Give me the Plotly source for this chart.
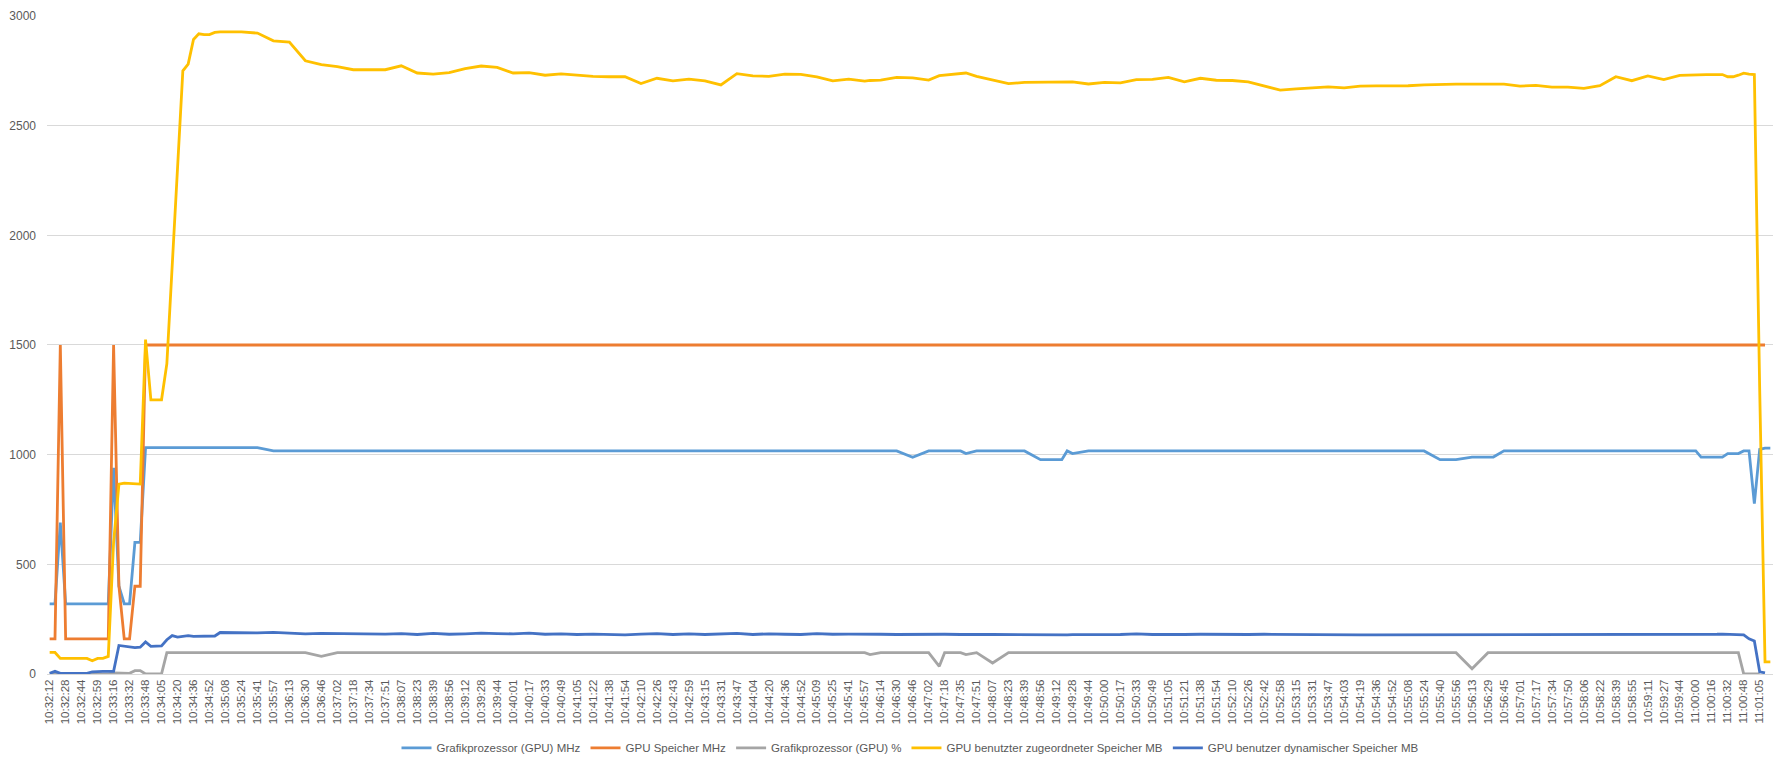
import plotly.graph_objects as go

# GPU log, one row every ~5 s; only every 3rd row has a time label on the axis
time_labels = [
    '10:32:12', '10:32:28', '10:32:44', '10:32:59', '10:33:16', '10:33:32', '10:33:48', '10:34:05',
    '10:34:20', '10:34:36', '10:34:52', '10:35:08', '10:35:24', '10:35:41', '10:35:57', '10:36:13',
    '10:36:30', '10:36:46', '10:37:02', '10:37:18', '10:37:34', '10:37:51', '10:38:07', '10:38:23',
    '10:38:39', '10:38:56', '10:39:12', '10:39:28', '10:39:44', '10:40:01', '10:40:17', '10:40:33',
    '10:40:49', '10:41:05', '10:41:22', '10:41:38', '10:41:54', '10:42:10', '10:42:26', '10:42:43',
    '10:42:59', '10:43:15', '10:43:31', '10:43:47', '10:44:04', '10:44:20', '10:44:36', '10:44:52',
    '10:45:09', '10:45:25', '10:45:41', '10:45:57', '10:46:14', '10:46:30', '10:46:46', '10:47:02',
    '10:47:18', '10:47:35', '10:47:51', '10:48:07', '10:48:23', '10:48:39', '10:48:56', '10:49:12',
    '10:49:28', '10:49:44', '10:50:00', '10:50:17', '10:50:33', '10:50:49', '10:51:05', '10:51:21',
    '10:51:38', '10:51:54', '10:52:10', '10:52:26', '10:52:42', '10:52:58', '10:53:15', '10:53:31',
    '10:53:47', '10:54:03', '10:54:19', '10:54:36', '10:54:52', '10:55:08', '10:55:24', '10:55:40',
    '10:55:56', '10:56:13', '10:56:29', '10:56:45', '10:57:01', '10:57:17', '10:57:34', '10:57:50',
    '10:58:06', '10:58:22', '10:58:39', '10:58:55', '10:59:11', '10:59:27', '10:59:44', '11:00:00',
    '11:00:16', '11:00:32', '11:00:48', '11:01:05',
]

rows = [
    0, 1, 2, 3, 4, 5, 6, 7, 8, 9, 10, 11, 12, 13, 14, 15, 16, 17, 18, 19, 20, 21, 22, 23, 24, 25, 26,
    27, 28, 29, 30, 31, 32, 33,
    36, 39, 42, 45, 48, 51, 54, 57, 60, 63, 66, 69, 72, 75, 78, 81, 84, 87, 90, 93, 96, 99, 102, 105,
    108, 111, 114, 117, 120, 123, 126, 129, 132, 135, 138, 141, 144, 147, 150, 153, 154, 156, 159,
    162, 165, 167, 168, 171, 172, 174, 177, 180, 183, 186, 189, 190, 191, 192, 195, 198, 201, 204,
    207, 210, 213, 216, 219, 222, 225, 228, 231, 234, 237, 240, 243, 246, 249, 252, 255, 258, 261,
    264, 267, 270, 271, 273, 276, 279, 282, 285, 288, 291, 294, 297, 300, 303, 306,
    309, 310, 311, 312, 313, 314, 315, 316, 317, 318, 319, 320, 321, 322, 323,
]

gpu_mhz = [
    320, 320, 690, 320, 320, 320, 320, 320, 320, 320, 320, 320, 940, 400, 320, 320, 600, 600, 1032,
    1032, 1032, 1032, 1032, 1032, 1032, 1032, 1032, 1032, 1032, 1032, 1032, 1032, 1032, 1032,
    1032, 1032, 1017, 1017, 1017, 1017, 1017, 1017, 1017, 1017, 1017, 1017, 1017, 1017, 1017, 1017,
    1017, 1017, 1017, 1017, 1017, 1017, 1017, 1017, 1017, 1017, 1017, 1017, 1017, 1017, 1017, 1017,
    1017, 1017, 1017, 1017, 1017, 1017, 1017, 1017, 1017, 1017, 1017, 988, 1017, 1017, 1017, 1017,
    1005, 1017, 1017, 1017, 1017, 977, 977, 977, 1017, 1005, 1017, 1017, 1017, 1017, 1017, 1017,
    1017, 1017, 1017, 1017, 1017, 1017, 1017, 1017, 1017, 1017, 1017, 1017, 1017, 1017, 1017, 1017,
    977, 977, 989, 989, 989, 1017, 1017, 1017, 1017, 1017, 1017, 1017, 1017, 1017, 1017, 1017, 1017,
    1017, 989, 989, 989, 989, 989, 1005, 1005, 1005, 1017, 1017, 777, 1024, 1030, 1030,
]

mem_mhz = [
    160, 160, 1500, 160, 160, 160, 160, 160, 160, 160, 160, 160, 1500, 400, 160, 160, 400, 400, 1500,
    1500, 1500, 1500, 1500, 1500, 1500, 1500, 1500, 1500, 1500, 1500, 1500, 1500, 1500, 1500,
    1500, 1500, 1500, 1500, 1500, 1500, 1500, 1500, 1500, 1500, 1500, 1500, 1500, 1500, 1500, 1500,
    1500, 1500, 1500, 1500, 1500, 1500, 1500, 1500, 1500, 1500, 1500, 1500, 1500, 1500, 1500, 1500,
    1500, 1500, 1500, 1500, 1500, 1500, 1500, 1500, 1500, 1500, 1500, 1500, 1500, 1500, 1500, 1500,
    1500, 1500, 1500, 1500, 1500, 1500, 1500, 1500, 1500, 1500, 1500, 1500, 1500, 1500, 1500, 1500,
    1500, 1500, 1500, 1500, 1500, 1500, 1500, 1500, 1500, 1500, 1500, 1500, 1500, 1500, 1500, 1500,
    1500, 1500, 1500, 1500, 1500, 1500, 1500, 1500, 1500, 1500, 1500, 1500, 1500, 1500, 1500, 1500,
    1500, 1500, 1500, 1500, 1500, 1500, 1500, 1500, 1500, 1500, 1500, 1500, 1500, 1500, 1500,
]

gpu_pct = [
    0, 0, 0, 0, 0, 0, 0, 0, 0, 0, 0, 0, 5, 5, 3, 3, 15, 15, 0, 0, 0, 0, 97, 97, 97, 97, 97, 97, 97,
    97, 97, 97, 97, 97,
    97, 97, 97, 97, 97, 80, 97, 97, 97, 97, 97, 97, 97, 97, 97, 97, 97, 97, 97, 97, 97, 97, 97, 97,
    97, 97, 97, 97, 97, 97, 97, 97, 97, 97, 97, 97, 97, 97, 97, 97, 88, 97, 97, 97, 97, 35, 97, 97,
    88, 97, 50, 97, 97, 97, 97, 97, 97, 97, 97, 97, 97, 96, 97, 97, 97, 97, 97, 97, 95, 97, 97, 97,
    97, 97, 97, 97, 97, 97, 97, 97, 97, 97, 24, 97, 97, 97, 97, 96, 97, 97, 97, 97, 97, 97, 97,
    97, 97, 97, 97, 97, 97, 97, 97, 97, 97, 97, 0, 0, 0, 0,
]

dedicated_mb = [
    98, 98, 71, 71, 71, 71, 71, 71, 60, 71, 71, 80, 600, 865, 870, 868, 866, 866, 1525, 1250, 1250,
    1250, 1415, 1860, 2300, 2750, 2781, 2893, 2919, 2915, 2915, 2925, 2928, 2928,
    2928, 2922, 2887, 2881, 2796, 2778, 2769, 2755, 2755, 2755, 2773, 2740, 2735, 2742, 2760, 2772,
    2766, 2740, 2742, 2730, 2736, 2729, 2725, 2723, 2723, 2692, 2716, 2704, 2712, 2704, 2686, 2737,
    2727, 2725, 2735, 2734, 2722, 2704, 2712, 2703, 2706, 2708, 2720, 2718, 2708, 2728, 2730, 2735,
    2740, 2725, 2708, 2692, 2697, 2697, 2697, 2697, 2697, 2700, 2690, 2697, 2695, 2710, 2711, 2720,
    2700, 2716, 2707, 2706, 2700, 2681, 2662, 2668, 2671, 2677, 2672, 2680, 2681, 2680, 2682, 2686,
    2689, 2689, 2689, 2689, 2689, 2689, 2680, 2684, 2676, 2676, 2670, 2682, 2723, 2705, 2727, 2710,
    2729, 2733, 2733, 2733, 2733, 2733, 2733, 2723, 2723, 2730, 2739, 2735, 2733, 1300, 55, 55,
]

dynamic_mb = [
    3, 12, 3, 3, 6, 3, 3, 3, 10, 12, 12, 12, 12, 130, 126, 123, 120, 122, 146, 126, 126, 128, 156,
    175, 168, 173, 175, 171, 172, 173, 173, 173, 189, 189,
    186, 187, 190, 185, 183, 185, 184, 182, 180, 182, 184, 180, 185, 181, 183, 186, 184, 183, 186,
    181, 183, 180, 182, 179, 178, 182, 184, 180, 183, 180, 182, 185, 180, 183, 181, 180, 184, 181,
    182, 180, 180, 181, 180, 181, 180, 182, 181, 180, 181, 180, 180, 179, 180, 178, 178, 178, 178,
    179, 178, 179, 180, 183, 180, 179, 180, 181, 180, 181, 180, 181, 180, 180, 179, 178, 178, 178,
    178, 178, 178, 178, 178, 178, 178, 178, 179, 178, 180, 179, 180, 181, 181, 181, 181, 181, 180,
    181, 181, 181, 181, 180, 180, 181, 182, 181, 180, 181, 178, 160, 150, 10, 5,
]

series = [
    ('Grafikprozessor (GPU) MHz', gpu_mhz, '#5B9BD5'),
    ('GPU Speicher MHz', mem_mhz, '#ED7D31'),
    ('Grafikprozessor (GPU) %', gpu_pct, '#A5A5A5'),
    ('GPU benutzter zugeordneter Speicher MB', dedicated_mb, '#FFC000'),
    ('GPU benutzer dynamischer Speicher MB', dynamic_mb, '#4472C4'),
]

font_family = 'Liberation Sans Narrow, Arial Narrow, Liberation Sans, Arial, sans-serif'

fig = go.Figure()
for name, values, color in series:
    fig.add_trace(go.Scatter(
        name=name,
        x=rows,
        y=values,
        mode='lines',
        line=dict(color=color, width=2.8),
    ))

fig.update_layout(
    width=1787,
    height=767,
    margin=dict(l=44, r=14, t=9, b=90),
    paper_bgcolor='white',
    plot_bgcolor='white',
    font=dict(family=font_family, size=12, color='#595959'),
    showlegend=True,
    legend=dict(
        orientation='h',
        x=0.5,
        xanchor='center',
        yref='container',
        y=0.025,
        yanchor='middle',
        font=dict(size=11.5, color='#595959'),
        itemwidth=30,
    ),
)
fig.update_xaxes(
    range=[-0.5, 323.5],
    tickmode='array',
    tickvals=list(range(0, len(time_labels) * 3, 3)),
    ticktext=time_labels,
    tickangle=-90,
    tickfont=dict(size=11.5),
    showgrid=False,
    zeroline=False,
    showline=True,
    linecolor='#D9D9D9',
    linewidth=1,
    ticks='',
)
fig.update_yaxes(
    range=[0, 3000],
    dtick=500,
    showgrid=True,
    gridcolor='#D9D9D9',
    gridwidth=1,
    zeroline=False,
    showline=False,
    ticks='',
    ticklabelstandoff=10,
    tickfont=dict(size=12),
)

fig.write_html('out.html', config={'displayModeBar': False},
               post_script="document.body.style.margin='0';")
